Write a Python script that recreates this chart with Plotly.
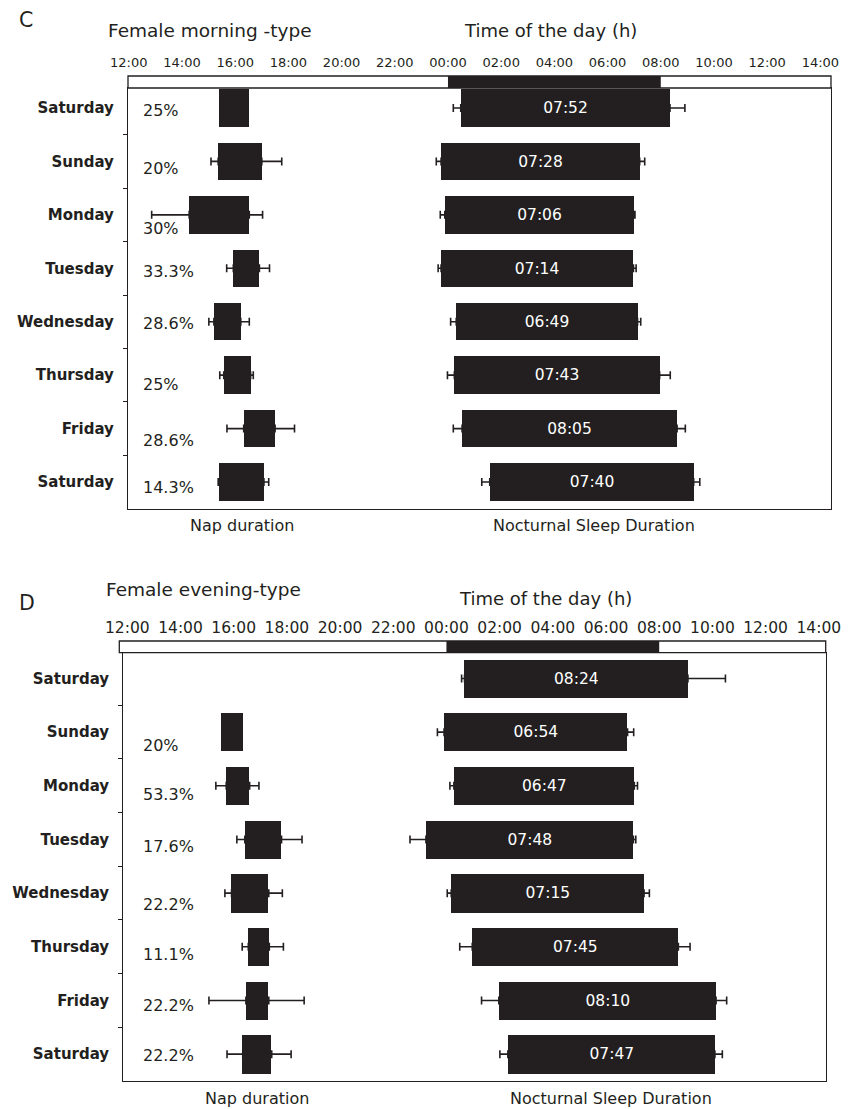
import plotly.graph_objects as go

# ---------------- data ----------------
DAYS = ["Saturday", "Sunday", "Monday", "Tuesday", "Wednesday", "Thursday", "Friday", "Saturday"]
HOUR_TICKS = [12, 14, 16, 18, 20, 22, 24, 26, 28, 30, 32, 34, 36, 38]
HOUR_LABELS = ["12:00", "14:00", "16:00", "18:00", "20:00", "22:00", "00:00",
               "02:00", "04:00", "06:00", "08:00", "10:00", "12:00", "14:00"]
NIGHT = [24, 32]  # dark period shown in the top strip (00:00-08:00)

# Panel C - female morning-type (hours counted from 00:00 of the first day)
C_NAP_PCT = ["25%", "20%", "30%", "33.3%", "28.6%", "25%", "28.6%", "14.3%"]
C_NAP_START = [15.39, 15.36, 14.27, 15.93, 15.20, 15.57, 16.32, 15.40]
C_NAP_END = [16.51, 17.00, 16.53, 16.91, 16.21, 16.58, 17.50, 17.08]
C_NAP_SD_START = [0, 0.27, 1.41, 0.25, 0.19, 0.15, 0.63, 0.04]
C_NAP_SD_END = [0, 0.75, 0.50, 0.38, 0.32, 0.10, 0.73, 0.18]
C_BED = [24.48, 23.74, 23.88, 23.74, 24.31, 24.24, 24.53, 25.57]
C_SLEEP_DUR = ["07:52", "07:28", "07:06", "07:14", "06:49", "07:43", "08:05", "07:40"]
C_BED_SD = [0.28, 0.18, 0.17, 0.11, 0.21, 0.26, 0.33, 0.30]
C_WAKE_SD = [0.56, 0.19, 0.05, 0.10, 0.12, 0.40, 0.31, 0.23]

# Panel D - female evening-type
D_NAP_PCT = [None, "20%", "53.3%", "17.6%", "22.2%", "11.1%", "22.2%", "22.2%"]
D_NAP_START = [None, 15.55, 15.72, 16.42, 15.92, 16.55, 16.46, 16.34]
D_NAP_END = [None, 16.36, 16.60, 17.80, 17.32, 17.34, 17.32, 17.43]
D_NAP_SD_START = [None, 0, 0.39, 0.30, 0.25, 0.23, 1.39, 0.59]
D_NAP_SD_END = [None, 0, 0.35, 0.77, 0.51, 0.53, 1.33, 0.73]
D_BED = [24.68, 23.91, 24.28, 23.23, 24.18, 24.97, 25.97, 26.31]
D_SLEEP_DUR = ["08:24", "06:54", "06:47", "07:48", "07:15", "07:45", "08:10", "07:47"]
D_BED_SD = [0.11, 0.25, 0.15, 0.60, 0.15, 0.47, 0.65, 0.30]
D_WAKE_SD = [1.41, 0.23, 0.12, 0.09, 0.20, 0.44, 0.40, 0.28]

# ---------------- styling ----------------
W, H = 848, 1109
DARK = "#231f20"
FONT = "DejaVu Sans"


def px(x):
    return x / W


def py(y):
    return 1 - y / H


def hours(txt):
    h, m = txt.split(":")
    return int(h) + int(m) / 60


fig = go.Figure()

panels = [
    dict(name="C", xa="x", ya="y",
         nap_pct=C_NAP_PCT, nap_s=C_NAP_START, nap_e=C_NAP_END,
         nap_sds=C_NAP_SD_START, nap_sde=C_NAP_SD_END,
         bed=C_BED, dur=C_SLEEP_DUR, bed_sd=C_BED_SD, wake_sd=C_WAKE_SD,
         bar_w=0.70, pct_dy=[3, 7, 14, 3, 2, 9, 12, 5]),
    dict(name="D", xa="x2", ya="y2",
         nap_pct=D_NAP_PCT, nap_s=D_NAP_START, nap_e=D_NAP_END,
         nap_sds=D_NAP_SD_START, nap_sde=D_NAP_SD_END,
         bed=D_BED, dur=D_SLEEP_DUR, bed_sd=D_BED_SD, wake_sd=D_WAKE_SD,
         bar_w=0.71, pct_dy=[0, 13, 9, 7, 11, 8, 5.5, 1.5]),
]

rows = list(range(len(DAYS)))
annotations = []

for p in panels:
    # nap bars
    nap_rows = [r for r in rows if p["nap_s"][r] is not None]
    fig.add_trace(go.Bar(
        orientation="h", xaxis=p["xa"], yaxis=p["ya"],
        y=nap_rows,
        base=[p["nap_s"][r] for r in nap_rows],
        x=[p["nap_e"][r] - p["nap_s"][r] for r in nap_rows],
        width=p["bar_w"], marker=dict(color=DARK, line=dict(width=0)),
        showlegend=False, hoverinfo="skip",
    ))
    # nocturnal sleep bars labelled with their duration
    dur_h = [hours(d) for d in p["dur"]]
    fig.add_trace(go.Bar(
        orientation="h", xaxis=p["xa"], yaxis=p["ya"],
        y=rows, base=p["bed"], x=dur_h,
        width=p["bar_w"], marker=dict(color=DARK, line=dict(width=0)),
        text=p["dur"], textposition="inside", insidetextanchor="middle",
        textangle=0, constraintext="none",
        textfont=dict(family=FONT, size=15.5, color="white"),
        showlegend=False, hoverinfo="skip",
    ))

    # whiskers: SD of the start (left) and of the end (right) of each bar
    def whiskers(xs, sds, side):
        rr = [r for r in rows if xs[r] is not None and sds[r] and sds[r] > 0]
        zeros = [0] * len(rr)
        sd = [sds[r] for r in rr]
        fig.add_trace(go.Scatter(
            xaxis=p["xa"], yaxis=p["ya"],
            x=[xs[r] for r in rr], y=rr, mode="markers",
            marker=dict(size=1, color="rgba(0,0,0,0)"),
            error_x=dict(type="data", symmetric=False,
                         array=sd if side == "right" else zeros,
                         arrayminus=zeros if side == "right" else sd,
                         color=DARK, thickness=1.6, width=4),
            showlegend=False, hoverinfo="skip",
        ))

    whiskers(p["nap_s"], p["nap_sds"], "left")
    whiskers(p["nap_e"], p["nap_sde"], "right")
    wake = [b + d for b, d in zip(p["bed"], dur_h)]
    whiskers(p["bed"], p["bed_sd"], "left")
    whiskers(wake, p["wake_sd"], "right")

    # share of participants who napped
    for r in rows:
        if p["nap_pct"][r] is None:
            continue
        annotations.append(dict(
            xref="paper", yref=p["ya"], x=px(141), y=r, yshift=-p["pct_dy"][r],
            xanchor="left", yanchor="middle", showarrow=False,
            text=p["nap_pct"][r], font=dict(family=FONT, size=16, color=DARK)))

# ---------------- axes ----------------
axis_common = dict(showgrid=False, zeroline=False, showline=True, mirror=True,
                   linecolor=DARK, linewidth=1.3, fixedrange=True, automargin=False)

fig.update_layout(
    xaxis=dict(axis_common, domain=[px(128), px(831)], anchor="y", range=[11.97, 38.40],
               side="top", tickvals=HOUR_TICKS, ticktext=HOUR_LABELS, ticks="",
               ticklabelstandoff=15, tickfont=dict(family=FONT, size=13, color=DARK)),
    yaxis=dict(axis_common, domain=[py(509), py(88)], anchor="x", range=[7.505, -0.374],
               tickvals=rows, ticktext=DAYS, ticks="", ticklabelstandoff=10,
               tickfont=dict(family=FONT, size=15, color=DARK, weight="bold"),
               minor=dict(tickvals=[r + 0.5 for r in rows[:-1]], ticks="outside",
                          ticklen=4, tickwidth=1.3, tickcolor=DARK)),
    xaxis2=dict(axis_common, domain=[px(123.3), px(825.7)], anchor="y2", range=[11.85, 38.26],
                side="top", tickvals=HOUR_TICKS, ticktext=HOUR_LABELS, ticks="",
                ticklabelstandoff=12, tickfont=dict(family=FONT, size=15.5, color=DARK)),
    yaxis2=dict(axis_common, domain=[py(1081), py(652.7)], anchor="x2", range=[7.5, -0.48],
                tickvals=rows, ticktext=DAYS, ticks="", ticklabelstandoff=10,
                tickfont=dict(family=FONT, size=15, color=DARK, weight="bold"),
                minor=dict(tickvals=[r + 0.5 for r in rows[:-1]], ticks="outside",
                           ticklen=4, tickwidth=1.3, tickcolor=DARK)),
)

# top strips with the dark night period
shapes = []
for xa, left, right, top, bottom in [("x", 128, 831, 76, 88), ("x2", 119.3, 825.7, 641, 652.7)]:
    shapes.append(dict(type="rect", xref="paper", yref="paper",
                       x0=px(left), x1=px(right), y0=py(bottom), y1=py(top),
                       fillcolor="white", line=dict(color=DARK, width=1.3), layer="above"))
    shapes.append(dict(type="rect", xref=xa, yref="paper",
                       x0=NIGHT[0], x1=NIGHT[1], y0=py(bottom), y1=py(top),
                       fillcolor=DARK, line=dict(width=0), layer="above"))

# titles and captions
def label(text, x, y, size, anchor="left"):
    annotations.append(dict(xref="paper", yref="paper", x=px(x), y=py(y),
                            xanchor=anchor, yanchor="middle", showarrow=False,
                            text=text, font=dict(family=FONT, size=size, color=DARK)))


label("C", 17, 20, 20.5)
label("Female morning -type", 106, 31, 18.5)
label("Time of the day (h)", 462, 31, 18)
label("Nap duration", 242, 526, 16, "center")
label("Nocturnal Sleep Duration", 593.5, 526, 16, "center")
label("D", 17, 603, 20.5)
label("Female evening-type", 104, 589, 18.5)
label("Time of the day (h)", 457, 598, 18)
label("Nap duration", 256.7, 1098, 16, "center")
label("Nocturnal Sleep Duration", 610.7, 1098, 16, "center")

fig.update_layout(
    width=W, height=H, margin=dict(l=0, r=0, t=0, b=0),
    paper_bgcolor="white", plot_bgcolor="white",
    barmode="overlay", bargap=0, showlegend=False,
    shapes=shapes, annotations=annotations,
    font=dict(family=FONT, color=DARK),
)

fig.write_html("out.html", config={"displayModeBar": False})
